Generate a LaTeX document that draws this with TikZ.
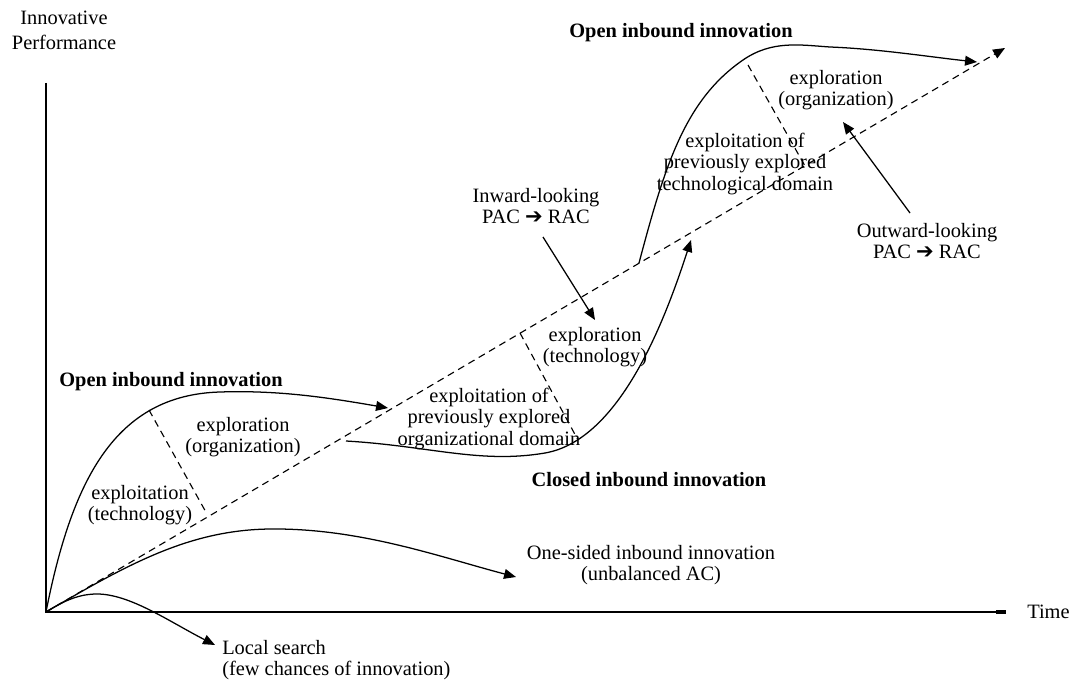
\documentclass[tikz,border=0pt]{standalone}
\usepackage{fontspec}
\setmainfont{Liberation Serif}
\newfontfamily\symfont{DejaVu Sans}
\usetikzlibrary{arrows.meta}
\newcommand{\pacrac}{PAC {\symfont\fontsize{15}{15}\selectfont ➔} RAC}
\begin{document}
\begin{tikzpicture}[x=0.025cm,y=-0.025cm,
	every node/.style={font=\fontsize{14.5}{15.3}\selectfont, align=center, inner sep=0pt},
	head/.style={font=\fontsize{14.5}{15.3}\selectfont\bfseries},
	curve/.style={line width=0.9pt},
	tip/.style={-{Triangle[length=8.5pt,width=7pt]}},
	guide/.style={dash pattern=on 5pt off 3.5pt, line width=0.8pt}]
	\useasboundingbox (0,0) rectangle (1072,682);
	\coordinate (O) at (46,612);
	\coordinate (Ytop) at (46,83);
	\coordinate (Xend) at (1006,612);
	\coordinate (Xcap) at (996,612);
	\coordinate (Dend) at (1005,48);
	\coordinate (A1) at (388,408);
	\coordinate (B0) at (346,441);
	\coordinate (B1) at (691,240);
	\coordinate (C0) at (639,263);
	\coordinate (C1) at (977,62);
	\coordinate (E1) at (516,577);
	\coordinate (L1) at (215,645);
	\coordinate (S1a) at (149,410);
	\coordinate (S1b) at (207,514);
	\coordinate (S2a) at (520,333);
	\coordinate (S2b) at (578,440);
	\coordinate (S3a) at (748,65);
	\coordinate (S3b) at (805,166);
	\coordinate (Ia) at (543,237);
	\coordinate (Ib) at (595,320);
	\coordinate (Oa) at (910,213);
	\coordinate (Ob) at (843,122);
	\node (perf) at (64,30) [font=\fontsize{14.5}{17.7}\selectfont] {Innovative\\Performance};
	\node (time) at (1027,612) [anchor=west] {Time};
	\node (open1) at (171,382) [head] {Open inbound innovation};
	\node (expl1) at (243,437) {exploration\\(organization)};
	\node (expt1) at (140,505) {exploitation\\(technology)};
	\node (expt2) at (489,419) {exploitation of\\previously explored\\organizational domain};
	\node (expl2) at (595,347) {exploration\\(technology)};
	\node (closed) at (649,480) [head] {Closed inbound innovation};
	\node (inw) at (536,206) {Inward-looking\\\pacrac};
	\node (open2) at (681,33) [head] {Open inbound innovation};
	\node (expl3) at (836,90) {exploration\\(organization)};
	\node (expt3) at (745,164) {exploitation of\\previously explored\\technological domain};
	\node (outw) at (927,241) {Outward-looking\\\pacrac};
	\node (onesided) at (651,565) {One-sided inbound innovation\\(unbalanced AC)};
	\node (local) at (222,660) [anchor=west, align=left] {Local search\\(few chances of innovation)};
	\draw [line width=1pt] (Ytop)--(O)--(Xend);
	\draw [line width=2.4pt] (Xcap)--(Xend);
	\draw [guide, tip] (O)--(Dend);
	\draw [guide] (S1a)--(S1b) (S2a)--(S2b) (S3a)--(S3b);
	\draw [curve, tip] (O) .. controls (72,480) and (115,395) .. (220,392) .. controls (280,390) and (330,398) .. (A1);
	\draw [curve, tip] (B0) .. controls (430,446) and (480,464) .. (545,453) .. controls (620,440) and (665,320) .. (B1);
	\draw [curve, tip] (C0) .. controls (665,165) and (685,100) .. (743,60) .. controls (772,40) and (800,45) .. (830,47) .. controls (880,49) and (930,57) .. (C1);
	\draw [curve, tip] (O) .. controls (130,563) and (190,530) .. (270,529) .. controls (360,528) and (440,557) .. (E1);
	\draw [curve, tip] (O) .. controls (65,600) and (80,594) .. (97,594) .. controls (130,594) and (170,622) .. (L1);
	\draw [curve, tip] (Ia)--(Ib);
	\draw [curve, tip] (Oa)--(Ob);
\end{tikzpicture}
\end{document}
